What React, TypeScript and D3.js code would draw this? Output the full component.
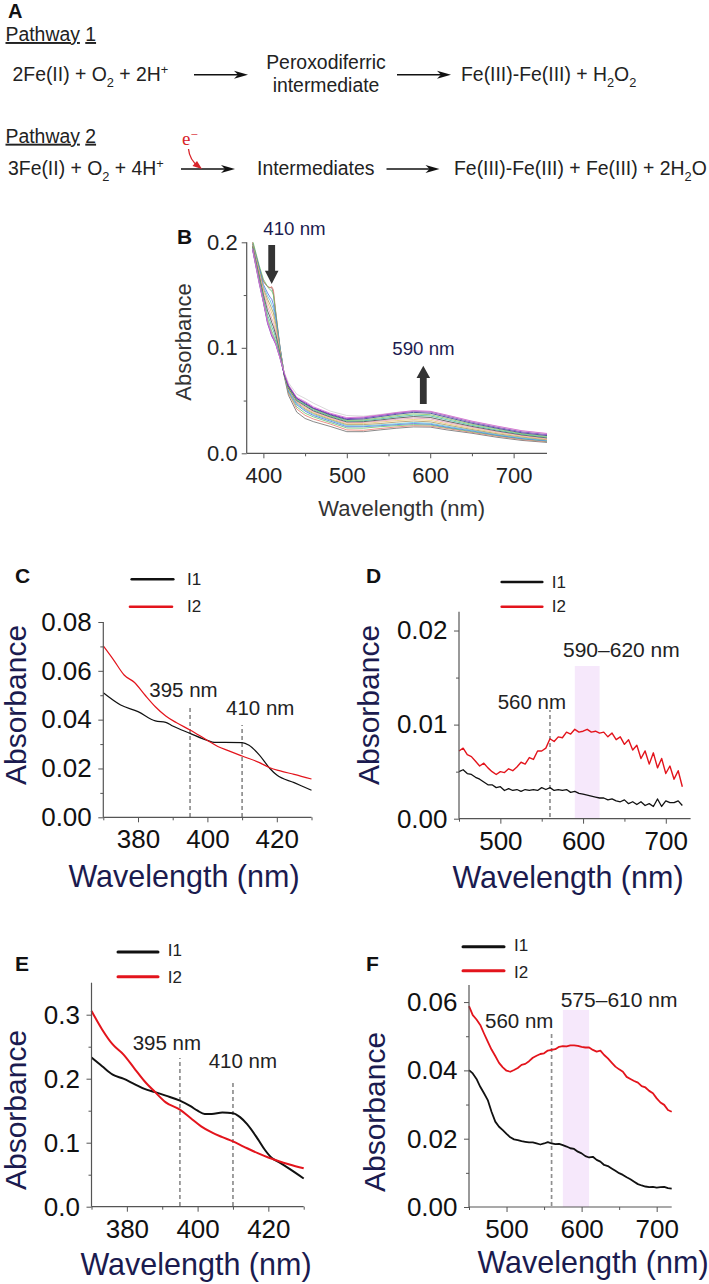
import React, { useEffect, useRef } from 'react';
import * as d3 from 'd3';

const WIDTH = 709;
const HEIGHT = 1284;
const FONT = '"Liberation Sans", Arial, sans-serif';
const NAVY = '#1b1b4f';
const TEXT = '#222';
const AXIS = '#555';
const BAND = '#f6e8fb';
const SCHEME_FONT = 19.4;

// Panel B: spectra over time, shared wavelength grid
const bWave = [387, 395, 400, 405, 408, 410, 412, 415, 420, 425, 430, 440, 450, 460, 480, 500, 520, 540, 560, 580, 600, 620, 650, 680, 710, 740];
const bColors = ['#6b6b6b', '#e8766a', '#63c46a', '#4d6be0', '#58c0d8', '#a9905c', '#e7c56c', '#e79ab8', '#404040', '#40b8a0', '#7fc05a', '#2f2f8a', '#6a1fb0', '#cfcfcf', '#d45fd0'];
const bSpectra = [
  [.200, .176, .163, .158, .157, .157, .152, .131, .098, .073, .055, .039, .033, .030, .0255, .0205, .0205, .0222, .0238, .0250, .0248, .0222, .0190, .0152, .0122, .0103],
  [.200, .176, .163, .158, .157, .158, .155, .133, .100, .074, .057, .042, .036, .0325, .0278, .0222, .0218, .0235, .0250, .0262, .0258, .0235, .0198, .0162, .0130, .0110],
  [.202, .178, .165, .158, .155, .154, .150, .132, .100, .074, .058, .044, .038, .0345, .0292, .0240, .0238, .0252, .0262, .0272, .0268, .0242, .0205, .0168, .0136, .0115],
  [.198, .176, .160, .152, .148, .146, .141, .128, .100, .075, .059, .046, .040, .0358, .0305, .0252, .0252, .0262, .0272, .0282, .0276, .0248, .0212, .0172, .0140, .0118],
  [.198, .174, .158, .149, .145, .141, .137, .125, .099, .075, .060, .047, .041, .0368, .0315, .0262, .0260, .0270, .0280, .0292, .0284, .0256, .0218, .0178, .0146, .0122],
  [.198, .173, .156, .146, .141, .137, .133, .122, .098, .075, .061, .048, .042, .0378, .0322, .0272, .0272, .0282, .0296, .0306, .0298, .0268, .0226, .0186, .0154, .0128],
  [.197, .172, .154, .143, .137, .133, .129, .119, .096, .075, .061, .049, .043, .0385, .0330, .0280, .0282, .0296, .0310, .0320, .0312, .0280, .0236, .0195, .0160, .0134],
  [.196, .170, .152, .139, .133, .128, .124, .115, .095, .075, .062, .049, .044, .0395, .0338, .0290, .0292, .0306, .0322, .0334, .0326, .0292, .0246, .0204, .0168, .0140],
  [.196, .168, .150, .135, .129, .124, .120, .112, .094, .075, .062, .050, .045, .0402, .0345, .0298, .0300, .0316, .0334, .0348, .0340, .0304, .0255, .0212, .0174, .0146],
  [.195, .166, .148, .131, .125, .120, .116, .109, .093, .075, .063, .050, .046, .0410, .0352, .0305, .0308, .0326, .0346, .0362, .0354, .0318, .0265, .0220, .0180, .0152],
  [.195, .165, .146, .128, .121, .116, .112, .106, .092, .075, .063, .051, .0465, .0418, .0358, .0312, .0316, .0336, .0358, .0374, .0366, .0330, .0275, .0230, .0186, .0160],
  [.194, .163, .144, .125, .118, .113, .110, .104, .091, .075, .064, .052, .047, .0425, .0365, .0320, .0326, .0348, .0370, .0388, .0380, .0342, .0285, .0238, .0194, .0168],
  [.193, .161, .143, .123, .116, .111, .108, .103, .090, .075, .064, .052, .048, .0430, .0372, .0328, .0336, .0358, .0380, .0398, .0392, .0354, .0296, .0248, .0204, .0178],
  [.194, .162, .144, .125, .118, .113, .110, .104, .090, .077, .067, .056, .052, .0475, .0400, .0358, .0352, .0368, .0388, .0402, .0396, .0360, .0302, .0255, .0212, .0185],
  [.194, .162, .144, .124, .117, .112, .109, .103, .090, .076, .065, .053, .049, .0440, .0380, .0338, .0344, .0364, .0386, .0404, .0398, .0362, .0305, .0258, .0214, .0188],
];

// Panel C
const cWaveI1 = [370, 375, 380, 385, 388, 390, 395, 400, 402, 405, 410, 412, 415, 418, 420, 425, 430];
const cI1 = [.051, .046, .0433, .0395, .0389, .0374, .0344, .0315, .0307, .0307, .0306, .0295, .0255, .020, .0173, .0142, .0111];
const cWaveI2 = [370, 373, 376, 379, 382, 385, 388, 391, 395, 400, 403, 406, 410, 415, 418, 421, 425, 430];
const cI2 = [.0702, .0644, .0583, .0552, .0501, .0453, .0415, .0388, .0358, .0315, .029, .0273, .0251, .0224, .0203, .019, .0176, .0157];

// Panels D and F share a 5 nm grid
const longWave = [450, 455, 460, 465, 470, 475, 480, 485, 490, 495, 500, 505, 510, 515, 520, 525, 530, 535, 540, 545, 550, 555, 560, 565, 570, 575, 580, 585, 590, 595, 600, 605, 610, 615, 620, 625, 630, 635, 640, 645, 650, 655, 660, 665, 670, 675, 680, 685, 690, 695, 700, 705, 710, 715, 720];
const dI1 = [.0050, .0052, .0048, .0047, .0044, .0042, .0039, .0036, .0036, .0033, .0034, .0030, .0032, .0030, .0031, .0029, .0031, .0030, .0031, .0030, .0033, .0031, .0033, .0030, .0031, .0030, .0031, .0028, .0029, .0027, .0026, .0025, .0024, .0023, .0022, .0022, .0020, .0021, .0019, .0018, .0020, .0016, .0018, .0015, .0018, .0014, .0016, .0013, .0021, .0013, .0019, .0017, .0017, .0019, .0014];
const dI2 = [.0072, .0075, .0068, .0066, .0061, .0056, .0059, .0054, .0050, .0047, .0050, .0049, .0053, .0051, .0055, .0060, .0058, .0065, .0063, .0072, .0072, .0075, .0085, .0082, .0087, .0086, .0092, .0090, .0095, .0092, .0093, .0095, .0092, .0093, .0091, .0092, .0087, .0091, .0084, .0087, .0079, .0084, .0073, .0078, .0064, .0072, .0058, .0070, .0054, .0064, .0048, .0056, .0042, .0051, .0034];
const fI1 = [.0401, .0391, .0375, .0352, .0333, .0313, .0279, .025, .0235, .0225, .0214, .0204, .0198, .0196, .0193, .0191, .0189, .0189, .0186, .0183, .0186, .019, .0186, .0184, .0185, .0181, .0177, .0172, .017, .0162, .0157, .0149, .0145, .0147, .0138, .0133, .0123, .012, .0113, .0106, .0099, .0094, .0087, .0081, .0074, .0067, .0063, .006, .0058, .0059, .0057, .0058, .0059, .0055, .0054];
const fI2 = [.0588, .0562, .0549, .0533, .0508, .0484, .0461, .0442, .0422, .0409, .0399, .0396, .0401, .0407, .0416, .0419, .0427, .0437, .0443, .0448, .045, .0458, .046, .0462, .0469, .0471, .047, .0473, .0473, .0472, .0469, .0467, .0467, .046, .0455, .0458, .0445, .0435, .0423, .0411, .0403, .0396, .0381, .0375, .0369, .0364, .0354, .035, .034, .0333, .0318, .0306, .0299, .0284, .0279];

// Panel E
const eWaveI1 = [370, 373, 376, 379, 382, 385, 388, 391, 395, 398, 400, 402, 404, 407, 410, 412, 414, 417, 419, 421, 423, 426, 430];
const eI1 = [.233, .2195, .2065, .2, .192, .184, .179, .1735, .1657, .157, .15, .145, .145, .147, .146, .14, .129, .106, .089, .076, .0695, .059, .044];
const eWaveI2 = [370, 373, 376, 379, 382, 385, 388, 391, 395, 398, 401, 404, 407, 410, 413, 417, 420, 423, 426, 430];
const eI2 = [.306, .277, .2535, .238, .217, .196, .179, .163, .1516, .1385, .1255, .116, .1087, .102, .094, .0836, .0768, .071, .066, .06];

type Rich = [string, ('sub' | 'sup')?];

const richText = (g: any, x: number, y: number, parts: Rich[], size: number, fill = TEXT) => {
  const t = g.append('text').attr('x', x).attr('y', y)
    .attr('font-family', FONT).attr('font-size', size).attr('fill', fill);
  let shift = 0;
  parts.forEach(([s, kind]) => {
    const target = kind === 'sub' ? size * 0.3 : kind === 'sup' ? -size * 0.38 : 0;
    t.append('tspan')
      .attr('dy', target - shift)
      .attr('font-size', kind ? size * 0.66 : size)
      .text(s);
    shift = target;
  });
};

const label = (g: any, x: number, y: number, s: string, size: number, fill = TEXT, anchor = 'start') =>
  g.append('text').attr('x', x).attr('y', y).attr('font-family', FONT).attr('font-size', size)
    .attr('fill', fill).attr('text-anchor', anchor).text(s);

const panelLetter = (g: any, x: number, y: number, s: string, size = 21) =>
  label(g, x, y, s, size, '#111').attr('font-weight', 'bold');

const rxnArrow = (g: any, x1: number, x2: number, y: number) => {
  g.append('line').attr('x1', x1).attr('x2', x2 - 6).attr('y1', y).attr('y2', y)
    .attr('stroke', '#111').attr('stroke-width', 1.4);
  g.append('path').attr('fill', '#111')
    .attr('d', `M${x2},${y}L${x2 - 14},${y - 4}L${x2 - 10},${y}L${x2 - 14},${y + 4}Z`);
};

const blockArrow = (g: any, cx: number, tail: number, neck: number, tip: number) => {
  const p = d3.path();
  p.moveTo(cx - 3.4, tail);
  p.lineTo(cx - 3.4, neck);
  p.lineTo(cx - 6.8, neck);
  p.lineTo(cx, tip);
  p.lineTo(cx + 6.8, neck);
  p.lineTo(cx + 3.4, neck);
  p.lineTo(cx + 3.4, tail);
  p.closePath();
  g.append('path').attr('d', p.toString()).attr('fill', '#333');
};

const drawScheme = (g: any) => {
  panelLetter(g, 8, 18, 'A', 20);
  const path1 = label(g, 5.5, 41, '', SCHEME_FONT);
  path1.append('tspan').attr('text-decoration', 'underline').text('Pathway');
  path1.append('tspan').text(' ');
  path1.append('tspan').attr('text-decoration', 'underline').text('1');
  richText(g, 12.5, 81, [['2Fe(II) + O'], ['2', 'sub'], [' + 2H'], ['+', 'sup']], SCHEME_FONT);
  rxnArrow(g, 194, 248, 74.7);
  label(g, 326, 69, 'Peroxodiferric', SCHEME_FONT, TEXT, 'middle');
  label(g, 326, 92, 'intermediate', SCHEME_FONT, TEXT, 'middle');
  rxnArrow(g, 397, 451, 74.7);
  richText(g, 461, 81, [['Fe(III)-Fe(III) + H'], ['2', 'sub'], ['O'], ['2', 'sub']], SCHEME_FONT);

  const path2 = label(g, 5.5, 142.7, '', SCHEME_FONT);
  path2.append('tspan').attr('text-decoration', 'underline').text('Pathway');
  path2.append('tspan').text(' ');
  path2.append('tspan').attr('text-decoration', 'underline').text('2');
  richText(g, 8, 175, [['3Fe(II) + O'], ['2', 'sub'], [' + 4H'], ['+', 'sup']], SCHEME_FONT);
  rxnArrow(g, 181, 235, 169);
  label(g, 257, 175, 'Intermediates', SCHEME_FONT);
  rxnArrow(g, 386.5, 439.5, 169);
  richText(g, 454, 175, [['Fe(III)-Fe(III) + Fe(III) + 2H'], ['2', 'sub'], ['O']], SCHEME_FONT);

  // red electron arrow
  g.append('text').attr('x', 182).attr('y', 145).attr('font-family', '"Liberation Serif", serif')
    .attr('font-size', 19).attr('fill', '#d8232a').text('e').append('tspan')
    .attr('dy', -6).attr('font-size', 13).text('−');
  const e = d3.path();
  e.moveTo(188.5, 149);
  e.quadraticCurveTo(189.5, 160, 199, 167);
  g.append('path').attr('d', e.toString()).attr('fill', 'none').attr('stroke', '#d8232a').attr('stroke-width', 1.3);
  g.append('path').attr('d', 'M202,169L192.5,166L197,161Z').attr('fill', '#d8232a');
};

const drawAxes = (g: any, o: any) => {
  const { x, y, xTicks, xMinor, yTicks, yMinor, yFormat, top, tickFont, xPad, yPad, color } = o;
  const [y0] = y.range();
  const [x0] = x.range();

  const minorX = g.append('g').attr('transform', `translate(0,${y0})`)
    .call(d3.axisBottom(x).tickValues(xMinor).tickSize(3).tickFormat(() => ''));
  const minorY = g.append('g').attr('transform', `translate(${x0},0)`)
    .call(d3.axisLeft(y).tickValues(yMinor).tickSize(3).tickFormat(() => ''));

  const ax = g.append('g').attr('transform', `translate(0,${y0})`)
    .call(d3.axisBottom(x).tickValues(xTicks).tickSize(5).tickPadding(xPad).tickFormat(d3.format('d')));
  const ay = g.append('g').attr('transform', `translate(${x0},0)`)
    .call(d3.axisLeft(y).tickValues(yTicks).tickSize(5).tickPadding(yPad).tickFormat(d3.format(yFormat)));

  [minorX, minorY, ax, ay].forEach(a => {
    a.selectAll('.domain').remove();
    a.selectAll('line').attr('stroke', AXIS).attr('stroke-width', 1);
  });
  [ax, ay].forEach(a => {
    a.attr('font-family', FONT).attr('font-size', tickFont);
    a.selectAll('text').attr('fill', color);
  });

  g.append('line').attr('x1', x0).attr('x2', x.range()[1]).attr('y1', y0).attr('y2', y0)
    .attr('stroke', AXIS).attr('stroke-width', 1.2);
  g.append('line').attr('x1', x0).attr('x2', x0).attr('y1', y0).attr('y2', top)
    .attr('stroke', AXIS).attr('stroke-width', 1.2);
};

const axisTitles = (g: any, o: any) => {
  label(g, o.titleX, o.titleY, 'Wavelength (nm)', o.titleFont, o.titleColor, 'middle');
  g.append('text')
    .attr('transform', `translate(${o.absX},${o.absY}) rotate(-90)`)
    .attr('font-family', FONT).attr('font-size', o.absFont || o.titleFont).attr('fill', o.titleColor)
    .attr('text-anchor', 'middle').text('Absorbance');
};

const curve = (g: any, xs: number[], ys: number[], x: any, y: any, color: string, w: number, smooth = false) => {
  const line = d3.line<number>()
    .x((_, i) => x(xs[i]))
    .y(d => y(d));
  if (smooth) line.curve(d3.curveMonotoneX);
  g.append('path').datum(ys).attr('d', line).attr('fill', 'none')
    .attr('stroke', color).attr('stroke-width', w).attr('stroke-linejoin', 'round');
};

const dashed = (g: any, x: number, y1: number, y2: number) =>
  g.append('line').attr('x1', x).attr('x2', x).attr('y1', y1).attr('y2', y2)
    .attr('stroke', '#8f8f8f').attr('stroke-width', 1.7).attr('stroke-dasharray', '4,3');

const legend = (g: any, o: any) => {
  const { x1, x2, y1, y2, tx, t1, t2, w } = o;
  g.append('line').attr('x1', x1[0]).attr('x2', x2[0]).attr('y1', y1).attr('y2', y1)
    .attr('stroke', '#111').attr('stroke-width', w).attr('stroke-linecap', 'round');
  g.append('line').attr('x1', x1[1]).attr('x2', x2[1]).attr('y1', y2).attr('y2', y2)
    .attr('stroke', '#e3141c').attr('stroke-width', w).attr('stroke-linecap', 'round');
  label(g, tx, t1, 'I1', 17);
  label(g, tx, t2, 'I2', 17);
};

const App = () => {
  const ref = useRef<SVGSVGElement>(null);

  useEffect(() => {
    const svg = d3.select(ref.current);
    svg.selectAll('*').remove();
    const g = svg.append('g');

    drawScheme(g);

    // Panel B
    const xB = d3.scaleLinear().domain([380, 740]).range([246.7, 547]);
    const yB = d3.scaleLinear().domain([0, 0.2]).range([453.3, 242.3]);
    panelLetter(g, 177, 243.5, 'B');
    const clip = svg.append('defs').append('clipPath').attr('id', 'clip-b');
    clip.append('rect').attr('x', 246.7).attr('y', 242.3).attr('width', 300.3).attr('height', 211);
    const bLines = g.append('g').attr('clip-path', 'url(#clip-b)');
    bSpectra.forEach((s, i) => curve(bLines, bWave, s, xB, yB, bColors[i], 0.8));
    drawAxes(g, {
      x: xB, y: yB, xTicks: [400, 500, 600, 700], xMinor: [450, 550, 650], yTicks: [0, 0.1, 0.2], yMinor: [0.05, 0.15],
      yFormat: '.1f', top: 242.3, tickFont: 22, xPad: 9, yPad: 4, color: '#222',
    });
    axisTitles(g, { titleX: 401.7, titleY: 516, absX: 190.7, absY: 342, titleFont: 22, titleColor: '#333' });
    label(g, 263.3, 235, '410 nm', 18.7, NAVY);
    blockArrow(g, 271.7, 245, 270.7, 284);
    label(g, 392.3, 355, '590 nm', 18.7, NAVY);
    blockArrow(g, 423.3, 404, 378, 365.7);

    // Panel C
    const xC = d3.scaleLinear().domain([370, 430]).range([103.3, 311.5]);
    const yC = d3.scaleLinear().domain([0, 0.08]).range([817.3, 622]);
    panelLetter(g, 15, 583, 'C');
    legend(g, { x1: [131.7, 130], x2: [173.3, 172], y1: 579.3, y2: 606.7, tx: 187, t1: 585, t2: 612, w: 2.6 });
    dashed(g, xC(395), 817, 705);
    dashed(g, xC(410), 817, 725);
    curve(g, cWaveI1, cI1, xC, yC, '#111', 1.2, true);
    curve(g, cWaveI2, cI2, xC, yC, '#e3141c', 1.2, true);
    drawAxes(g, {
      x: xC, y: yC, xTicks: [380, 400, 420], xMinor: [370, 390, 410, 430], yTicks: [0, 0.02, 0.04, 0.06, 0.08], yMinor: [0.01, 0.03, 0.05, 0.07],
      yFormat: '.2f', top: 622, tickFont: 26, xPad: 7.5, yPad: 6.5, color: '#111',
    });
    axisTitles(g, { titleX: 184, titleY: 887, absX: 26, absY: 705, titleFont: 30.5, absFont: 30, titleColor: NAVY });
    label(g, 149.3, 696.7, '395 nm', 20.5);
    label(g, 226, 715, '410 nm', 20.5);

    // Panel D
    const xD = d3.scaleLinear().domain([450, 730]).range([459, 690.6]);
    const yD = d3.scaleLinear().domain([0, 0.022]).range([818.7, 611.7]);
    panelLetter(g, 366, 583, 'D');
    legend(g, { x1: [501.7, 501.7], x2: [542.3, 542.3], y1: 582, y2: 606.7, tx: 551.7, t1: 588, t2: 612, w: 2.6 });
    g.append('rect').attr('x', xD(590)).attr('width', xD(620) - xD(590)).attr('y', 666).attr('height', 818.7 - 666).attr('fill', BAND);
    dashed(g, xD(560), 817, 710);
    curve(g, longWave, dI1, xD, yD, '#111', 1.3);
    curve(g, longWave, dI2, xD, yD, '#e3141c', 1.4);
    drawAxes(g, {
      x: xD, y: yD, xTicks: [500, 600, 700], xMinor: [450, 550, 650], yTicks: [0, 0.01, 0.02], yMinor: [0.005, 0.015],
      yFormat: '.2f', top: 611.7, tickFont: 26, xPad: 7.5, yPad: 6.5, color: '#111',
    });
    axisTitles(g, { titleX: 568, titleY: 888, absX: 379, absY: 705, titleFont: 30.5, absFont: 30, titleColor: NAVY });
    label(g, 497.7, 709, '560 nm', 20.5);
    label(g, 563, 656.7, '590–620 nm', 21);

    // Panel E
    const xE = d3.scaleLinear().domain([370, 430]).range([91.5, 303.7]);
    const yE = d3.scaleLinear().domain([0, 0.35]).range([1206.7, 982.7]);
    panelLetter(g, 15, 971, 'E');
    legend(g, { x1: [118, 118], x2: [158, 158], y1: 952, y2: 976.7, tx: 167.7, t1: 956, t2: 982.7, w: 3 });
    dashed(g, xE(395), 1206, 1058);
    dashed(g, xE(410), 1206, 1080);
    curve(g, eWaveI1, eI1, xE, yE, '#111', 2, true);
    curve(g, eWaveI2, eI2, xE, yE, '#e3141c', 2, true);
    drawAxes(g, {
      x: xE, y: yE, xTicks: [380, 400, 420], xMinor: [370, 390, 410, 430], yTicks: [0, 0.1, 0.2, 0.3], yMinor: [0.05, 0.15, 0.25],
      yFormat: '.1f', top: 982.7, tickFont: 26, xPad: 7.5, yPad: 6.5, color: '#111',
    });
    axisTitles(g, { titleX: 196, titleY: 1275, absX: 26, absY: 1110, titleFont: 30.5, absFont: 30, titleColor: NAVY });
    label(g, 132.7, 1050, '395 nm', 20.5);
    label(g, 208.7, 1067.7, '410 nm', 20.5);

    // Panel F
    const xF = d3.scaleLinear().domain([450, 720]).range([469, 671.7]);
    const yF = d3.scaleLinear().domain([0, 0.065]).range([1207, 985]);
    panelLetter(g, 366, 971, 'F');
    legend(g, { x1: [463, 463], x2: [504, 504], y1: 946.7, y2: 970.7, tx: 514, t1: 950.7, t2: 978, w: 3 });
    g.append('rect').attr('x', xF(575)).attr('width', xF(610) - xF(575)).attr('y', 1010).attr('height', 1207 - 1010).attr('fill', BAND);
    dashed(g, xF(560), 1206, 1033);
    curve(g, longWave, fI1, xF, yF, '#111', 1.8);
    curve(g, longWave, fI2, xF, yF, '#e3141c', 1.8);
    drawAxes(g, {
      x: xF, y: yF, xTicks: [500, 600, 700], xMinor: [450, 550, 650], yTicks: [0, 0.02, 0.04, 0.06], yMinor: [0.01, 0.03, 0.05],
      yFormat: '.2f', top: 985, tickFont: 26, xPad: 7.5, yPad: 6.5, color: '#111',
    });
    axisTitles(g, { titleX: 593, titleY: 1273, absX: 385, absY: 1112, titleFont: 30.5, absFont: 30, titleColor: NAVY });
    label(g, 485, 1028, '560 nm', 20.5);
    label(g, 560.7, 1006.7, '575–610 nm', 21);
  }, []);

  return (
    <svg
      ref={ref}
      width={WIDTH}
      height={HEIGHT}
      viewBox={`0 0 ${WIDTH} ${HEIGHT}`}
      style={{ position: 'absolute', left: 0, top: 0, display: 'block', background: '#fff' }}
    />
  );
};

export default App;
